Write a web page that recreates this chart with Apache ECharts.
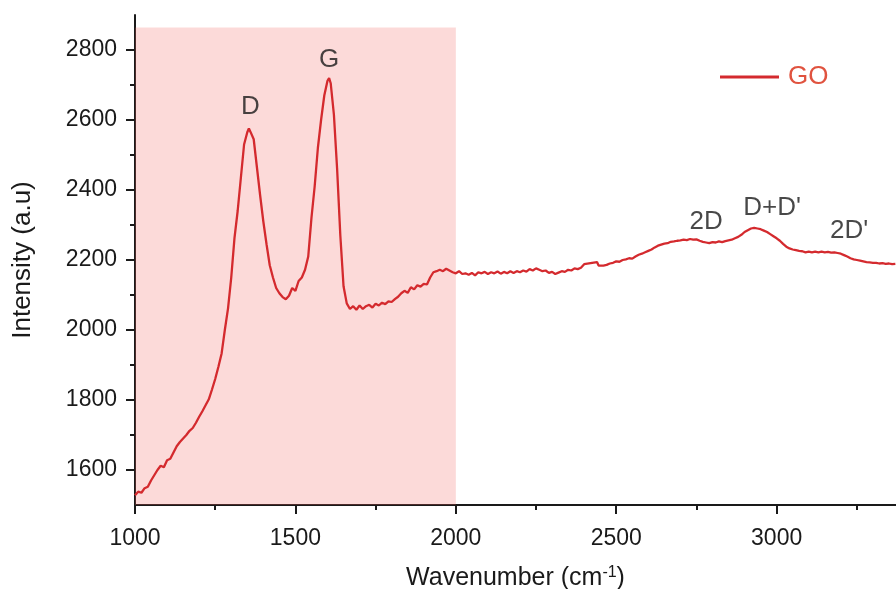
<!DOCTYPE html>
<html lang="en">
<head>
    <meta charset="UTF-8">
    <title>GO Raman</title>
    <script type="text/javascript" src="https://cdn.jsdelivr.net/npm/echarts@6/dist/echarts.min.js"></script>
</head>
<body style="margin:0">
<div id="main" style="width: 896px; height: 589px;"></div>
<script type="text/javascript">
    var wavenumber = [
        1000, 1010, 1020, 1030, 1040, 1050, 1060, 1070, 1080, 1090,
        1100, 1110, 1120, 1130, 1140, 1150, 1160, 1170, 1180, 1190,
        1200, 1210, 1220, 1230, 1240, 1250, 1260, 1270, 1280, 1290,
        1300, 1310, 1320, 1330, 1340, 1350, 1355, 1360, 1370, 1380,
        1390, 1400, 1410, 1420, 1430, 1440, 1450, 1460, 1470, 1480,
        1490, 1500, 1510, 1520, 1530, 1540, 1550, 1560, 1570, 1580,
        1590, 1600, 1605, 1610, 1620, 1630, 1640, 1650, 1660, 1670,
        1680, 1690, 1700, 1710, 1720, 1730, 1740, 1750, 1760, 1770,
        1780, 1790, 1800, 1810, 1820, 1830, 1840, 1850, 1860, 1870,
        1880, 1890, 1900, 1910, 1920, 1930, 1940, 1950, 1960, 1970,
        1980, 1990, 2000, 2010, 2020, 2030, 2040, 2050, 2060, 2070,
        2080, 2090, 2100, 2110, 2120, 2130, 2140, 2150, 2160, 2170,
        2180, 2190, 2200, 2210, 2220, 2230, 2240, 2250, 2260, 2270,
        2280, 2290, 2300, 2310, 2320, 2330, 2340, 2350, 2360, 2370,
        2380, 2390, 2400, 2405, 2440, 2445, 2450, 2460, 2470, 2480,
        2490, 2500, 2510, 2520, 2530, 2540, 2550, 2560, 2570, 2580,
        2590, 2600, 2610, 2620, 2630, 2640, 2650, 2660, 2670, 2680,
        2690, 2700, 2710, 2720, 2730, 2740, 2750, 2760, 2770, 2780,
        2790, 2800, 2810, 2820, 2830, 2840, 2850, 2860, 2870, 2880,
        2890, 2900, 2910, 2920, 2930, 2940, 2950, 2960, 2970, 2980,
        2990, 3000, 3010, 3020, 3030, 3040, 3050, 3060, 3070, 3080,
        3090, 3100, 3110, 3120, 3130, 3140, 3150, 3160, 3170, 3180,
        3190, 3200, 3210, 3220, 3230, 3240, 3250, 3260, 3270, 3280,
        3290, 3300, 3310, 3320, 3330, 3340, 3350, 3360, 3370
    ];
    var intensity = [
        1528, 1538, 1535, 1548, 1552, 1570, 1585, 1600, 1612, 1608,
        1628, 1632, 1650, 1668, 1680, 1690, 1700, 1712, 1720, 1735,
        1752, 1768, 1785, 1802, 1830, 1860, 1895, 1933, 2000, 2062,
        2150, 2262, 2340, 2435, 2530, 2565, 2576, 2566, 2545, 2465,
        2385, 2310, 2245, 2185, 2150, 2120, 2105, 2094, 2088, 2098,
        2120, 2112, 2140, 2150, 2172, 2210, 2320, 2410, 2520, 2600,
        2670, 2712, 2720, 2705, 2615, 2460, 2270, 2125, 2076, 2060,
        2068, 2058, 2070, 2060, 2068, 2072, 2064, 2075, 2070, 2078,
        2074, 2082, 2080, 2088, 2095, 2105, 2112, 2106, 2122, 2116,
        2128, 2124, 2132, 2130, 2150, 2165, 2168, 2172, 2168, 2175,
        2170, 2165, 2162, 2168, 2160, 2162, 2158, 2163, 2156, 2165,
        2162, 2166, 2160, 2165, 2162, 2167, 2161, 2166, 2162, 2168,
        2163, 2168, 2165, 2170, 2167, 2174, 2170, 2176, 2172, 2168,
        2170, 2163, 2166, 2160, 2164, 2168, 2166, 2172, 2170, 2176,
        2174, 2178, 2188, 2192, 2194, 2184, 2180, 2184, 2186, 2190,
        2192, 2196, 2195, 2200, 2202, 2205, 2204, 2210, 2215, 2218,
        2222, 2226, 2230, 2236, 2241, 2244, 2247, 2248, 2252, 2253,
        2255, 2256, 2258, 2257, 2260, 2258, 2259, 2255, 2252, 2250,
        2248, 2251, 2250, 2253, 2251, 2254, 2256, 2258, 2262, 2266,
        2272, 2280, 2285, 2290, 2292, 2290, 2288, 2284, 2280, 2274,
        2268, 2262, 2255, 2246, 2238, 2233, 2230, 2228, 2226, 2225,
        2222, 2224, 2222, 2224, 2222, 2224, 2222, 2223, 2221, 2222,
        2220, 2218, 2214, 2210, 2205, 2202, 2200, 2198, 2196, 2194,
        2193, 2192, 2192, 2190, 2191, 2189, 2190, 2188, 2189
    ];

    var peakNames = ['D', 'G', '2D', "D+D'", "2D'"];
    var peakX = [1360, 1605, 2780, 2986, 3226];
    var peakY = [2639, 2771, 2309, 2349, 2284];

    var yMajor = [1600, 1800, 2000, 2200, 2400, 2600, 2800];
    var yMinor = [1700, 1900, 2100, 2300, 2500, 2700];
    var xMinor = [1250, 1750, 2250, 2750, 3250];

    var lineData = wavenumber.map(function (w, i) { return [w, intensity[i]]; });
    var labelData = peakNames.map(function (n, i) { return { name: n, value: [peakX[i], peakY[i]] }; });

    var font = 'Liberation Sans, Arial, sans-serif';
    var ink = '#1a1a1a';
    var plain = function (v) { return String(v); };

    var myChart = echarts.init(document.getElementById('main'));
    var option = {
        animation: false,
        grid: { left: 135, right: 0, top: 15, bottom: 84, outerBoundsMode: 'none' },
        legend: {
            data: [{ name: 'GO', icon: 'rect' }],
            left: 715,
            top: 59,
            itemWidth: 59,
            itemHeight: 3,
            itemGap: 6,
            textStyle: { color: '#e0533f', fontSize: 26, fontFamily: font, padding: [0, 0, 0, 4] }
        },
        xAxis: [{
            type: 'value',
            min: 1000,
            max: 3372,
            interval: 500,
            splitLine: { show: false },
            axisLine: { lineStyle: { color: ink, width: 2 } },
            axisTick: { length: 9, lineStyle: { color: ink, width: 2 } },
            axisLabel: {
                margin: 22, fontSize: 23, color: ink, fontFamily: font,
                showMaxLabel: false, formatter: plain
            },
            name: '{a|Wavenumber (cm}{s|-1}{a|)}',
            nameLocation: 'middle',
            nameGap: 60,
            nameTextStyle: {
                rich: {
                    a: { fontSize: 25, color: ink, fontFamily: font },
                    s: { fontSize: 16, color: ink, fontFamily: font, verticalAlign: 'top', padding: [0, 0, 10, 0] }
                }
            }
        }, {
            type: 'value',
            min: 1000,
            max: 3372,
            position: 'bottom',
            splitLine: { show: false },
            axisLine: { show: false },
            axisLabel: { show: false },
            axisTick: { customValues: xMinor, length: 5, lineStyle: { color: ink, width: 2 } }
        }],
        yAxis: [{
            type: 'value',
            min: 1500,
            max: 2900,
            splitLine: { show: false },
            axisLine: { show: true, lineStyle: { color: ink, width: 2 } },
            axisTick: { show: true, customValues: yMajor, length: 9, lineStyle: { color: ink, width: 2 } },
            axisLabel: { customValues: yMajor, margin: 18, fontSize: 23, color: ink, fontFamily: font, formatter: plain },
            name: 'Intensity (a.u)',
            nameLocation: 'middle',
            nameGap: 99,
            nameTextStyle: { fontSize: 26, color: ink, fontFamily: font }
        }, {
            type: 'value',
            min: 1500,
            max: 2900,
            position: 'left',
            splitLine: { show: false },
            axisLine: { show: false },
            axisLabel: { show: false },
            axisTick: { show: true, customValues: yMinor, length: 5, lineStyle: { color: ink, width: 2 } }
        }],
        series: [
            {
                name: 'GO',
                type: 'line',
                data: lineData,
                showSymbol: false,
                symbol: 'none',
                lineStyle: { color: '#d42a2e', width: 2.3 },
                itemStyle: { color: '#d42a2e' },
                z: 2
            },
            {
                type: 'line',
                data: [],
                z: 5,
                silent: true,
                markArea: {
                    silent: true,
                    itemStyle: { color: 'rgba(243,100,95,0.24)' },
                    data: [[{ xAxis: 1000, yAxis: 1500 }, { xAxis: 2000, yAxis: 2864 }]]
                }
            },
            {
                type: 'scatter',
                data: labelData,
                symbolSize: 1,
                itemStyle: { color: 'rgba(0,0,0,0)' },
                silent: true,
                z: 6,
                label: {
                    show: true,
                    position: 'inside',
                    formatter: '{b}',
                    fontSize: 26,
                    color: ink,
                    fontFamily: font
                }
            }
        ]
    };
    myChart.setOption(option);
</script>
</body>
</html>
